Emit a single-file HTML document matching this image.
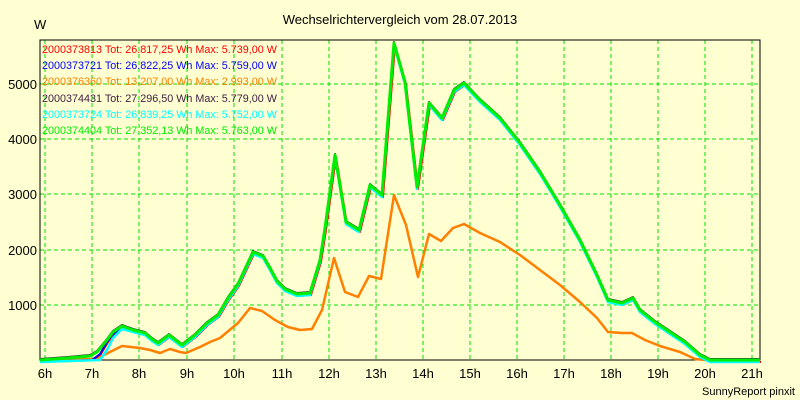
<!DOCTYPE html>
<html><head><meta charset="utf-8"><style>
html,body{margin:0;padding:0;background:#ffffd2;}
svg{display:block;font-family:"Liberation Sans",sans-serif;}
</style></head><body>
<svg width="800" height="400" viewBox="0 0 800 400" xmlns="http://www.w3.org/2000/svg">
<rect width="800" height="400" fill="#ffffd2"/>
<text x="400" y="24" font-size="13" text-anchor="middle" fill="#000">Wechselrichtervergleich vom 28.07.2013</text>
<text x="34" y="29" font-size="13" fill="#000">W</text>
<g stroke="#00e000" stroke-width="1" stroke-dasharray="4,3" fill="none">
<path d="M40 84H760M40 139H760M40 194H760M40 250H760M40 305H760"/>
<path d="M45 40V360M92 40V360M139 40V360M187 40V360M234 40V360M282 40V360M329 40V360M376 40V360M423 40V360M470 40V360M517 40V360M564 40V360M611 40V360M658 40V360M705 40V360M752 40V360"/>
</g>
<path d="M40 40H760V360H40Z" fill="none" stroke="#000" stroke-width="1"/>
<g font-size="13" fill="#000" text-anchor="end">
<text x="37" y="89">5000</text><text x="37" y="144">4000</text><text x="37" y="199">3000</text><text x="37" y="255">2000</text><text x="37" y="310">1000</text>
</g>
<g font-size="13" fill="#000" text-anchor="middle">
<text x="45" y="378">6h</text><text x="92" y="378">7h</text><text x="139" y="378">8h</text><text x="187" y="378">9h</text><text x="234" y="378">10h</text><text x="282" y="378">11h</text><text x="329" y="378">12h</text><text x="376" y="378">13h</text><text x="423" y="378">14h</text><text x="470" y="378">15h</text><text x="517" y="378">16h</text><text x="564" y="378">17h</text><text x="611" y="378">18h</text><text x="658" y="378">19h</text><text x="705" y="378">20h</text><text x="752" y="378">21h</text>
</g>
<text x="795" y="395" font-size="11" text-anchor="end" fill="#000">SunnyReport pinxit</text>
<g fill="none" stroke-linejoin="round">
<polyline stroke="#ff8000" stroke-width="2.5" points="40,360 95,359 100,357 110,352 122,346 140,348 150,350 160,353 170,349 180,352 186,353 200,347 210,342 220,338 238,323 250,308 262,311 275,320 288,327 300,330 312,329 322,310 334,258 345,292 358,297 369,276 381,279 394,195 406,225 418,277 429,234 441,241 453,228 464,224 480,233 500,242 520,255 540,270 560,285 580,302 597,318 608,332 622,333 632,333 645,340 660,346 680,352 695,359 705,360 760,360"/>
<polyline stroke="#402040" stroke-width="2" transform="translate(0,-1)" points="40,360 68,358 90,356 97,352 107,340 113,332 122,326 133,330 145,333 152,339 158,343 169,335 182,345 195,335 207,323 218,315 228,298 238,284 253,252 263,256 270,268 277,281 285,289 297,294 310,293 320,260 325,228 335,155 346,222 359,230 370,185 382,195 394,43 405,82 417,187 429,103 442,118 454,90 464,83 480,100 500,118 520,143 540,172 560,205 580,240 597,275 608,300 622,303 633,298 640,310 655,322 670,332 685,342 700,355 710,360 760,360"/>
<polyline stroke="#ff0000" stroke-width="2" transform="translate(1,2)" points="40,360 92,358 100,352 107,340 113,332 122,326 133,330 145,333 152,339 158,343 169,335 182,345 195,335 207,323 218,315 228,298 238,284 253,252 263,256 270,268 277,281 285,289 297,294 310,293 320,260 325,228 335,155 346,222 359,230 370,185 382,195 394,43 405,82 417,187 429,103 442,118 454,90 464,83 480,100 500,118 520,143 540,172 560,205 580,240 597,275 608,300 622,303 633,298 640,310 655,322 670,332 685,342 700,355 710,360 760,360"/>
<polyline stroke="#0000ff" stroke-width="2" transform="translate(0,2)" points="40,360 92,358 100,352 107,340 113,332 122,326 133,330 145,333 152,339 158,343 169,335 182,345 195,335 207,323 218,315 228,298 238,284 253,252 263,256 270,268 277,281 285,289 297,294 310,293 320,260 325,228 335,155 346,222 359,230 370,185 382,195 394,43 405,82 417,187 429,103 442,118 454,90 464,83 480,100 500,118 520,143 540,172 560,205 580,240 597,275 608,300 622,303 633,298 640,310 655,322 670,332 685,342 700,355 710,360 760,360"/>
<polyline stroke="#00ffff" stroke-width="2.5" transform="translate(0,2)" points="40,360 100,358 107,348 113,336 122,327 133,330 145,333 152,339 158,343 169,335 182,345 195,335 207,323 218,315 228,298 238,284 253,252 263,256 270,268 277,281 285,289 297,294 310,293 320,260 325,228 335,155 346,222 359,230 370,185 382,195 394,43 405,82 417,187 429,103 442,118 454,90 464,83 480,100 500,118 520,143 540,172 560,205 580,240 597,275 608,300 622,303 633,298 640,310 655,322 670,332 685,342 700,355 710,360 760,360"/>
<polyline stroke="#00ee00" stroke-width="3" points="40,360 68,358 90,356 97,352 107,340 113,332 122,326 133,330 145,333 152,339 158,343 169,335 182,345 195,335 207,323 218,315 228,298 238,284 253,252 263,256 270,268 277,281 285,289 297,294 310,293 320,260 325,228 335,155 346,222 359,230 370,185 382,195 394,43 405,82 417,187 429,103 442,118 454,90 464,83 480,100 500,118 520,143 540,172 560,205 580,240 597,275 608,300 622,303 633,298 640,310 655,322 670,332 685,342 700,355 710,360 760,360"/>
</g>
<g font-size="11">
<text x="42" y="53" fill="#ff0000" textLength="235" lengthAdjust="spacingAndGlyphs">2000373813 Tot: 26.817,25 Wh Max: 5.739,00 W</text>
<text x="42" y="69" fill="#0000ff" textLength="235" lengthAdjust="spacingAndGlyphs">2000373721 Tot: 26.822,25 Wh Max: 5.759,00 W</text>
<text x="42" y="85" fill="#ff8000" textLength="235" lengthAdjust="spacingAndGlyphs">2000376360 Tot: 13.207,00 Wh Max: 2.993,00 W</text>
<text x="42" y="102" fill="#402040" textLength="235" lengthAdjust="spacingAndGlyphs">2000374431 Tot: 27.296,50 Wh Max: 5.779,00 W</text>
<text x="42" y="118" fill="#00ffff" textLength="235" lengthAdjust="spacingAndGlyphs">2000373724 Tot: 26.839,25 Wh Max: 5.752,00 W</text>
<text x="42" y="134" fill="#00ee00" textLength="235" lengthAdjust="spacingAndGlyphs">2000374404 Tot: 27.352,13 Wh Max: 5.763,00 W</text>
</g>
</svg>
</body></html>
